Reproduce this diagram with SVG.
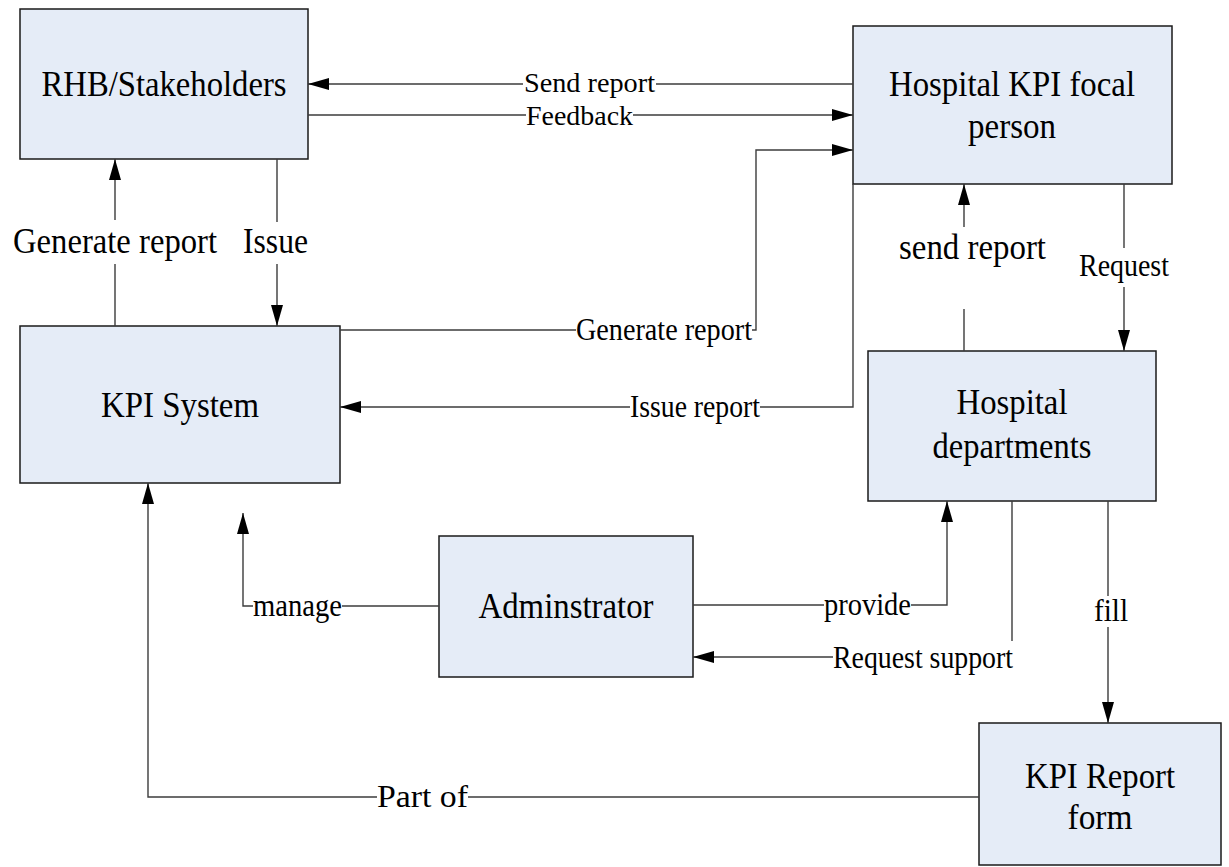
<svg xmlns="http://www.w3.org/2000/svg" width="1229" height="867" viewBox="0 0 1229 867">
<defs>
<marker id="arr" markerUnits="userSpaceOnUse" viewBox="0 0 21 12" refX="21" refY="6" markerWidth="21" markerHeight="12" orient="auto">
<path d="M0,0 L21,6 L0,12 z" fill="#000"/>
</marker>
<style>
.box{fill:#E5ECF7;stroke:#1a1a1a;stroke-width:1.5}
.node{font-family:"Liberation Serif","Times New Roman",serif;font-size:35px;fill:#000;text-anchor:middle}
.big{font-family:"Liberation Serif","Times New Roman",serif;font-size:35px;fill:#000}
.lbl{font-family:"Liberation Serif","Times New Roman",serif;font-size:31px;fill:#000}
.sm{font-size:28px}
.con{fill:none;stroke:#3c3c3c;stroke-width:1.4}
.arr{marker-end:url(#arr)}
</style>
</defs>
<rect width="1229" height="867" fill="#fff"/>

<g id="rhb">
<rect class="box" x="20" y="9" width="288" height="150"/>
<text class="node" x="164" y="96" textLength="245" lengthAdjust="spacingAndGlyphs">RHB/Stakeholders</text>
</g>
<g id="focal">
<rect class="box" x="853" y="26" width="319" height="158"/>
<text class="node" x="1012" y="96" textLength="246" lengthAdjust="spacingAndGlyphs">Hospital KPI focal</text>
<text class="node" x="1012" y="138" textLength="88" lengthAdjust="spacingAndGlyphs">person</text>
</g>
<g id="kpisystem">
<rect class="box" x="20" y="326" width="320" height="157"/>
<text class="node" x="180" y="417" textLength="158" lengthAdjust="spacingAndGlyphs">KPI System</text>
</g>
<g id="departments">
<rect class="box" x="868" y="351" width="288" height="150"/>
<text class="node" x="1012" y="414" textLength="111" lengthAdjust="spacingAndGlyphs">Hospital</text>
<text class="node" x="1012" y="458" textLength="159" lengthAdjust="spacingAndGlyphs">departments</text>
</g>
<g id="admin">
<rect class="box" x="439" y="536" width="254" height="141"/>
<text class="node" x="566" y="618" textLength="175" lengthAdjust="spacingAndGlyphs">Adminstrator</text>
</g>
<g id="reportform">
<rect class="box" x="979" y="723" width="242" height="142"/>
<text class="node" x="1100" y="788" textLength="150" lengthAdjust="spacingAndGlyphs">KPI Report</text>
<text class="node" x="1100" y="829" textLength="65" lengthAdjust="spacingAndGlyphs">form</text>
</g>

<g id="connectors">
<path class="con arr" d="M853,84 H656 M523,84 H308"/>
<text class="lbl sm" x="524" y="92" textLength="131" lengthAdjust="spacingAndGlyphs">Send report</text>

<path class="con arr" d="M308,115 H526 M633,115 H853"/>
<text class="lbl sm" x="526" y="125" textLength="107" lengthAdjust="spacingAndGlyphs">Feedback</text>

<path class="con arr" d="M340,330 H576 M752,330 H756 V150 H853"/>
<text class="lbl" x="576" y="340" textLength="176" lengthAdjust="spacingAndGlyphs">Generate report</text>

<path class="con arr" d="M853,184 V407 H760 M630,407 H340"/>
<text class="lbl" x="630" y="417" textLength="130" lengthAdjust="spacingAndGlyphs">Issue report</text>

<path class="con arr" d="M277,159 V222 M277,264 V326"/>
<text class="big" x="243" y="253" textLength="65" lengthAdjust="spacingAndGlyphs">Issue</text>

<path class="con arr" d="M115,326 V264 M115,220 V159"/>
<text class="big" x="13" y="253" textLength="204" lengthAdjust="spacingAndGlyphs">Generate report</text>

<path class="con arr" d="M964,351 V309 M964,227 V184"/>
<text class="big" x="899" y="259" textLength="147" lengthAdjust="spacingAndGlyphs">send report</text>

<path class="con arr" d="M1124,184 V248 M1124,287 V351"/>
<text class="lbl" x="1079" y="276" font-size="30" textLength="90" lengthAdjust="spacingAndGlyphs">Request</text>

<path class="con arr" d="M439,606 H342 M253,606 H243 V513"/>
<text class="lbl" x="253" y="616" textLength="89" lengthAdjust="spacingAndGlyphs">manage</text>

<path class="con arr" d="M693,605 H824 M911,605 H947 V501"/>
<text class="lbl" x="824" y="615" textLength="87" lengthAdjust="spacingAndGlyphs">provide</text>

<path class="con arr" d="M1012,501 V641 M833,657 H693"/>
<text class="lbl" x="833" y="668" textLength="180" lengthAdjust="spacingAndGlyphs">Request support</text>

<path class="con arr" d="M1108,501 V596 M1108,627 V723"/>
<text class="lbl" x="1094" y="621" textLength="34" lengthAdjust="spacingAndGlyphs">fill</text>

<path class="con arr" d="M979,797 H468 M377,797 H148 V483"/>
<text class="lbl" x="377" y="807" textLength="91" lengthAdjust="spacingAndGlyphs">Part of</text>
</g>
</svg>
